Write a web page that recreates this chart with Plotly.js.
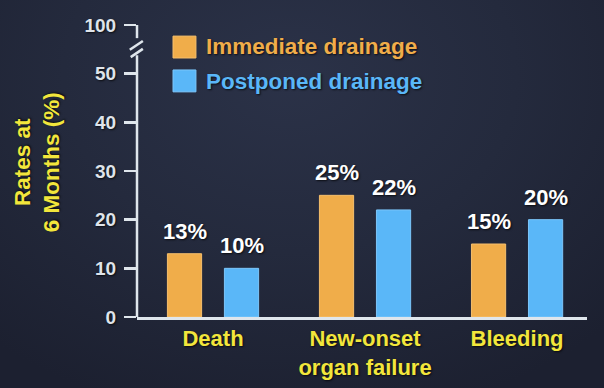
<!DOCTYPE html>
<html>
<head>
<meta charset="utf-8">
<script src="https://cdn.plot.ly/plotly-3.0.1.min.js"></script>
<style>
  html, body { margin: 0; padding: 0; }
  body { width: 604px; height: 388px; overflow: hidden;
    background: radial-gradient(ellipse 75% 90% at 48% 20%, #2b3248 0%, #242a3d 50%, #1c2030 100%); }
  #chart { width: 604px; height: 388px; }
</style>
</head>
<body>
<div id="chart"></div>
<script>
// ---- data ----
const categories = ['Death', 'New-onset organ failure', 'Bleeding'];
const categoryLabels = ['Death', 'New-onset<br>organ failure', 'Bleeding'];
const seriesNames = ['Immediate drainage', 'Postponed drainage'];
const immediate = [13, 25, 15];
const postponed = [10, 22, 20];
const yTickValues = [0, 10, 20, 30, 40, 50, 60];
const yTickLabels = ['0', '10', '20', '30', '40', '50', '100'];

// ---- styles ----
const ORANGE = '#f0ad4a';
const BLUE = '#5ab7f8';
const YELLOW = '#f2e63c';
const AXIS = '#dfe6ec';
const FONT = 'Liberation Sans, Arial, sans-serif';
const SHADOW = '1px 1px 2px rgba(0,0,0,0.7)';

const seriesValues = [immediate, postponed];
const seriesColors = [ORANGE, BLUE];
const seriesLines = ['#f6bf6c', '#7cc6fb'];

const traces = seriesValues.map((vals, i) => ({
  type: 'bar',
  name: seriesNames[i],
  x: categories,
  y: vals,
  marker: { color: seriesColors[i], line: { color: seriesLines[i], width: 1 } },
  showlegend: false,
  hoverinfo: 'skip'
}));

const annotations = [];
// value labels above bars
const xShift = [-28.5, 28.5];
seriesValues.forEach((vals, s) => {
  vals.forEach((v, i) => {
    annotations.push({
      x: categories[i], y: v, xref: 'x', yref: 'y',
      text: v + '%', showarrow: false,
      xanchor: 'center', yanchor: 'bottom',
      xshift: xShift[s], yshift: 8,
      font: { family: FONT, size: 22, color: '#ffffff', weight: 'bold', shadow: SHADOW }
    });
  });
});
// manual legend text
const legendY = [0.925, 0.808];
seriesNames.forEach((n, s) => {
  annotations.push({
    x: 0.148, y: legendY[s], xref: 'paper', yref: 'paper',
    text: n, showarrow: false, xanchor: 'left', yanchor: 'middle',
    font: { family: FONT, size: 22.5, color: seriesColors[s], weight: 'bold', shadow: SHADOW }
  });
});
// y-axis title
annotations.push({
  x: -0.222, y: 0.53, xref: 'paper', yref: 'paper',
  text: 'Rates at<br>6 Months (%)', showarrow: false, textangle: -90,
  xanchor: 'center', yanchor: 'middle',
  font: { family: FONT, size: 22.5, color: YELLOW, weight: 'bold', shadow: SHADOW }
});

const shapes = [];
// legend squares
const legendSq = [[0.962, 0.887], [0.846, 0.771]];
legendSq.forEach((yy, s) => {
  shapes.push({ type: 'rect', xref: 'paper', yref: 'paper',
    x0: 0.08, x1: 0.131, y0: yy[1], y1: yy[0],
    fillcolor: seriesColors[s], line: { color: seriesLines[s], width: 1 } });
});
// y axis line with break
const axLine = { color: AXIS, width: 2.5 };
shapes.push({ type: 'line', xref: 'paper', yref: 'y', x0: 0, x1: 0, y0: 0, y1: 53.8, line: axLine });
shapes.push({ type: 'line', xref: 'paper', yref: 'y', x0: 0, x1: 0, y0: 57.3, y1: 60, line: axLine });
shapes.push({ type: 'line', xref: 'paper', yref: 'y', x0: -0.016, x1: 0.013, y0: 54.9, y1: 56.7, line: axLine });
shapes.push({ type: 'line', xref: 'paper', yref: 'y', x0: -0.014, x1: 0.013, y0: 53.4, y1: 55.1, line: axLine });

const layout = {
  width: 604, height: 388,
  margin: { l: 137, r: 17, t: 25, b: 71, pad: 0 },
  paper_bgcolor: 'rgba(0,0,0,0)',
  plot_bgcolor: 'rgba(0,0,0,0)',
  barmode: 'group',
  bargap: 0.25,
  bargroupgap: 0.4,
  font: { family: FONT },
  xaxis: {
    type: 'category',
    tickvals: categories, ticktext: categoryLabels,
    range: [-0.5, 2.46],
    showline: true, linecolor: AXIS, linewidth: 3,
    ticks: '', showgrid: false, zeroline: false,
    tickfont: { family: FONT, size: 22, color: YELLOW, weight: 'bold', shadow: SHADOW },
    fixedrange: true
  },
  yaxis: {
    range: [0, 60],
    tickvals: yTickValues, ticktext: yTickLabels,
    ticks: 'outside', ticklen: 12, tickwidth: 2.5, tickcolor: AXIS,
    showline: false, showgrid: false, zeroline: false,
    tickfont: { family: FONT, size: 19, color: '#dfe4ea', weight: 'bold', shadow: SHADOW },
    ticklabelstandoff: 4,
    fixedrange: true
  },
  shapes: shapes,
  annotations: annotations,
  showlegend: false
};

Plotly.newPlot('chart', traces, layout, { displayModeBar: false, staticPlot: true });
</script>
</body>
</html>
